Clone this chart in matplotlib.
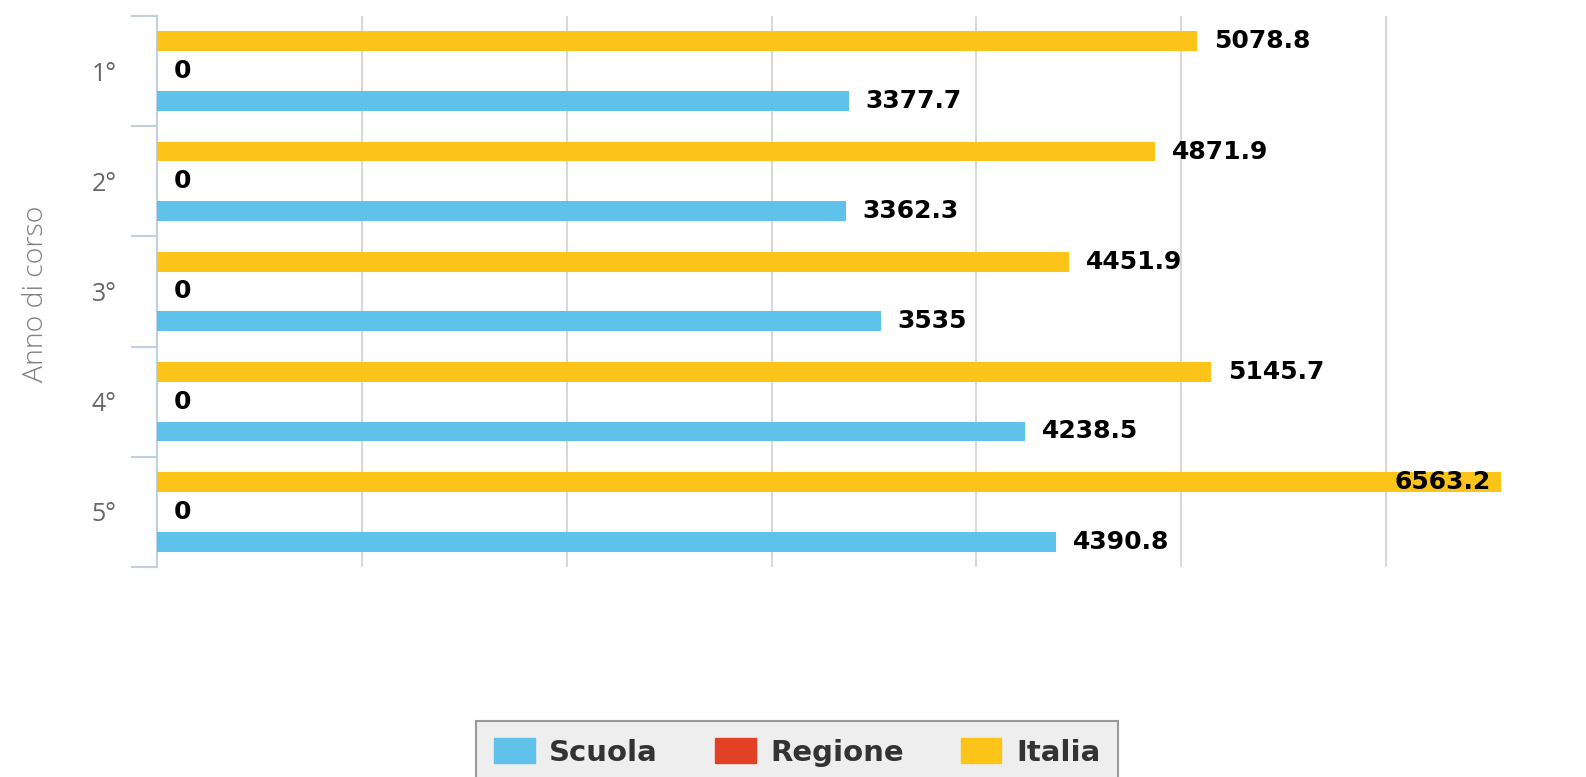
import numpy as np
from matplotlib import pyplot as plt
from matplotlib.patches import Patch

categories = ['1°', '2°', '3°', '4°', '5°']
scuola = [3377.7, 3362.3, 3535, 4238.5, 4390.8]
regione = [0, 0, 0, 0, 0]
italia = [5078.8, 4871.9, 4451.9, 5145.7, 6563.2]

c_scuola = '#5EC2EA'
c_regione = '#E34126'
c_italia = '#FCC419'

W, H = 1586, 777
fig = plt.figure(figsize=(W / 100, H / 100), dpi=100)
ax = fig.add_axes([157 / W, 1 - 567 / H, (1509 - 157) / W, (567 - 16) / H])

y = np.arange(len(categories))
bh = 0.18
off = 0.27
ax.barh(y - off, italia, height=bh, color=c_italia, zorder=3)
ax.barh(y, regione, height=bh, color=c_regione, zorder=3)
ax.barh(y + off, scuola, height=bh, color=c_scuola, zorder=3)

xmax = 6600
ax.set_xlim(0, xmax)
ax.set_ylim(len(categories) - 0.5, -0.5)

# data labels
lab_font = dict(fontsize=18, fontweight='bold', color='black', family='DejaVu Sans')
for series, dy in [(italia, -off), (regione, 0), (scuola, off)]:
    for i, v in enumerate(series):
        txt = '%g' % v
        if v > 6000:
            ax.annotate(txt, (v, i + dy), xytext=(-8, 0), textcoords='offset points',
                        ha='right', va='center', zorder=4, **lab_font)
        else:
            ax.annotate(txt, (v, i + dy), xytext=(12, 0), textcoords='offset points',
                        ha='left', va='center', zorder=4, **lab_font)

# grid
ax.set_xticks(np.arange(1000, 7000, 1000))
ax.xaxis.grid(True, color='#D8D8D8', linewidth=1.5, zorder=0)
ax.tick_params(axis='x', length=0, labelbottom=False)

# y axis
ax.set_yticks(y)
ax.set_yticklabels(categories, fontsize=18, color='#666666', family='Open Sans')
ax.set_yticks(np.arange(-0.5, len(categories), 1), minor=True)
ax.tick_params(axis='y', which='major', length=0, pad=29)
ax.tick_params(axis='y', which='minor', length=19, width=1.5, color='#C0D0E0')

for s in ['top', 'right', 'bottom']:
    ax.spines[s].set_visible(False)
ax.spines['left'].set_color('#C0D0E0')
ax.spines['left'].set_linewidth(1.5)

fig.text(36 / W, 1 - 294 / H, 'Anno di corso', rotation=90, ha='center', va='center',
         fontsize=20.5, color='#808080', family='Open Sans', fontweight='light')

handles = [Patch(color=c_scuola), Patch(color=c_regione), Patch(color=c_italia)]
leg = fig.legend(handles, ['Scuola', 'Regione', 'Italia'], loc='upper center',
                 bbox_to_anchor=(797 / W, 1 - 706 / H), ncol=3, frameon=True,
                 fancybox=False, handlelength=1.4, handleheight=0.95,
                 handletextpad=0.5, columnspacing=1.95, borderpad=0.6,
                 prop={'family': 'DejaVu Sans', 'weight': 'bold', 'size': 21})
leg.get_frame().set_facecolor('#EEEEEE')
leg.get_frame().set_edgecolor('#999999')
leg.get_frame().set_linewidth(1.5)
leg.get_frame().set_alpha(1)
for t in leg.get_texts():
    t.set_color('#333333')

fig.savefig('out.png', dpi=100)
